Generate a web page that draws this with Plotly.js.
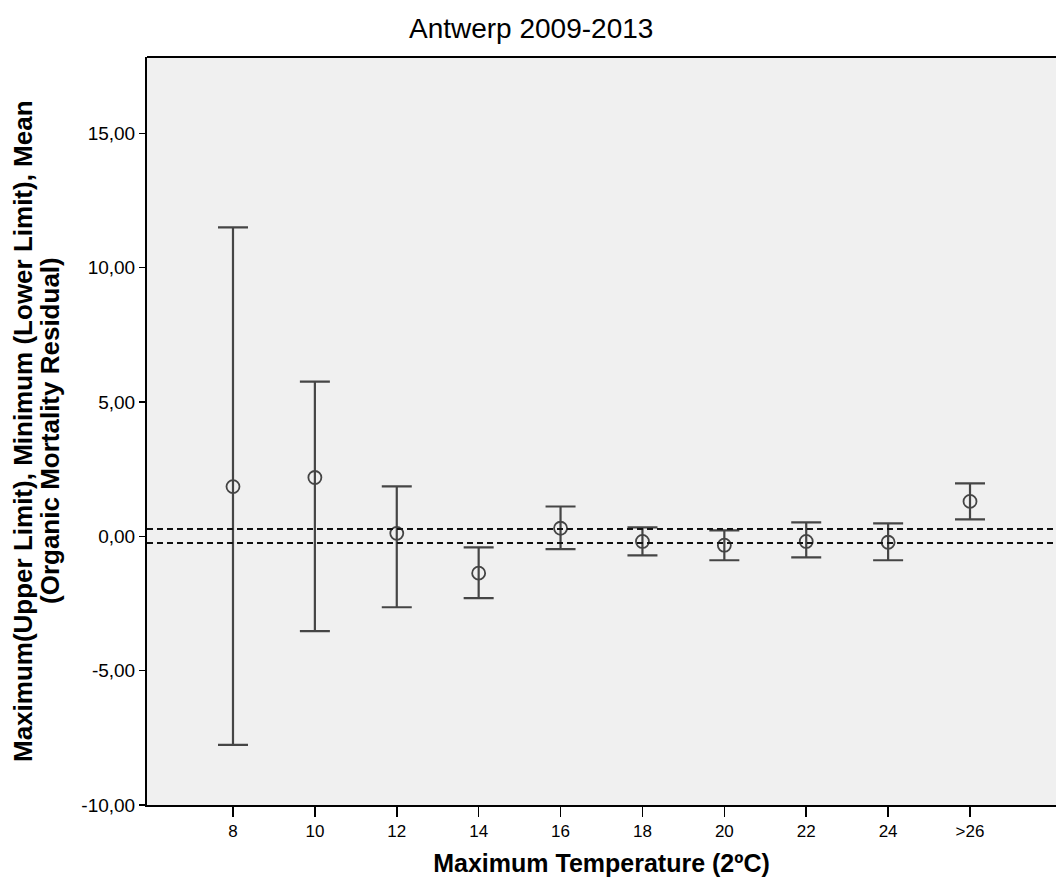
<!DOCTYPE html>
<html><head><meta charset="utf-8">
<script src="https://cdn.plot.ly/plotly-3.0.1.min.js"></script>
<style>body{margin:0;background:#fff}#chart{width:1056px;height:881px}</style>
</head><body><div id="chart"></div>
<script>
const categories = ['8','10','12','14','16','18','20','22','24','>26'];
const meanValues = [1.85, 2.19, 0.11, -1.37, 0.30, -0.19, -0.33, -0.19, -0.22, 1.30];
const upperLimits = [11.50, 5.76, 1.86, -0.41, 1.11, 0.33, 0.22, 0.52, 0.48, 1.97];
const lowerLimits = [-7.76, -3.53, -2.64, -2.30, -0.48, -0.71, -0.89, -0.78, -0.89, 0.63];
const refLines = [0.27, -0.25];
const yTicks = [-10, -5, 0, 5, 10, 15];
const yTickText = yTicks.map(v => v.toFixed(2).replace('.', ','));
const yTitleLines = ['Maximum(Upper Limit), Minimum (Lower Limit), Mean', '(Organic Mortality Residual)'];

const idx = categories.map((c, i) => i);
const trace = {
  x: idx, y: meanValues, type: 'scatter', mode: 'markers',
  marker: {symbol: 'circle-open', size: 13, color: '#444', line: {width: 1.8, color: '#444'}},
  error_y: {type: 'data', symmetric: false,
    array: upperLimits.map((u, i) => u - meanValues[i]),
    arrayminus: meanValues.map((m, i) => m - lowerLimits[i]),
    color: '#454545', thickness: 2.2, width: 15},
  hoverinfo: 'skip', showlegend: false
};
const shapes = refLines.map(v => ({type: 'line', xref: 'paper', yref: 'y', x0: 0, x1: 1, y0: v, y1: v,
  line: {color: '#111', width: 2, dash: '6px,4px'}}));
shapes.push({type: 'line', xref: 'paper', yref: 'paper', x0: 0, x1: 1, y0: 1, y1: 1, line: {color: '#000', width: 2}});
const annotations = yTitleLines.map((t, i) => ({
  text: '<b>' + t + '</b>', xref: 'paper', yref: 'paper', x: 0, y: 0.5,
  xanchor: 'center', yanchor: 'middle', xshift: i === 0 ? -124 : -97, textangle: -90,
  showarrow: false, font: {size: 26, color: '#000'}
}));
const layout = {
  width: 1056, height: 881,
  margin: {l: 147, r: 0, t: 57, b: 76},
  paper_bgcolor: '#fff', plot_bgcolor: '#f0f0f0',
  font: {family: 'Liberation Sans, Arial, sans-serif', color: '#000', size: 14},
  title: {text: 'Antwerp 2009-2013', font: {size: 28, color: '#000'}, xref: 'container', x: 0.503, y: 0.968, yanchor: 'middle'},
  xaxis: {range: [-1.05, 10.05], tickvals: idx, ticktext: categories, ticks: 'outside', ticklen: 10, tickwidth: 1.5, tickcolor: '#000',
    showgrid: false, zeroline: false, showline: true, linecolor: '#000', linewidth: 2,
    tickfont: {size: 17}, title: {text: '<b>Maximum Temperature (2ºC)</b>', font: {size: 25}, standoff: 14}},
  yaxis: {range: [-10, 17.84], tickvals: yTicks, ticktext: yTickText, ticks: 'outside', ticklen: 6, tickwidth: 1.5, tickcolor: '#000',
    showgrid: false, zeroline: false, showline: true, linecolor: '#000', linewidth: 2,
    tickfont: {size: 19}},
  shapes: shapes,
  annotations: annotations
};
Plotly.newPlot('chart', [trace], layout, {displayModeBar: false, staticPlot: true});
</script></body></html>
